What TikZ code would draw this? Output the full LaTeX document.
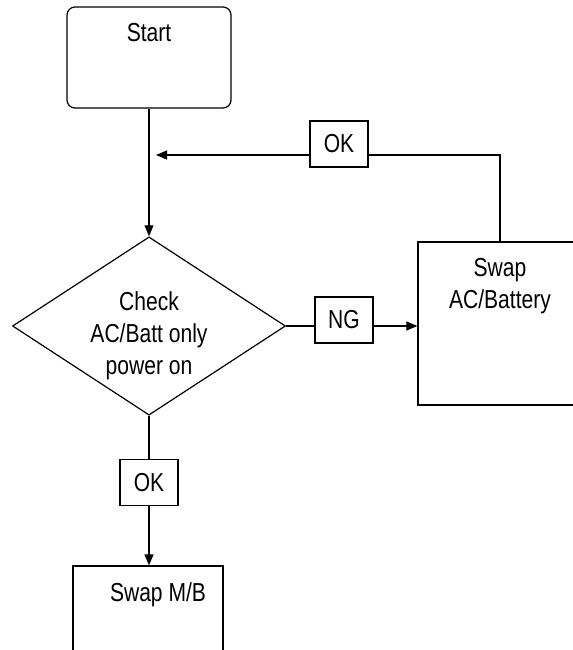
\documentclass[tikz,border=0pt]{standalone}
\usepackage{fontspec}
\setmainfont{Liberation Sans}[FakeStretch=0.81]
\usetikzlibrary{arrows.meta,positioning,shapes.geometric,calc}
\tikzset{
  fc/base/.style={draw, line width=0.6pt, font=\fontsize{13}{16}\selectfont},
  fc/start/.style={fc/base, rounded corners=4pt, minimum width=82pt, minimum height=50.5pt},
  fc/process/.style={fc/base, minimum width=82pt, minimum height=81.5pt},
  fc/decision/.style={fc/base, diamond, aspect=1.53, inner sep=-1pt, align=center, minimum width=136.5pt, minimum height=89pt},
  fc/tag/.style={fc/base, minimum width=29pt, minimum height=23pt, inner sep=0pt},
  fc/title/.style={anchor=north, inner sep=0pt, align=center, yshift=-8.5pt, font=\fontsize{13}{16}\selectfont},
  fc/line/.style={line width=0.6pt},
  fc/arrow/.style={fc/line, -{Triangle[length=5.5pt,width=4.5pt]}}
}

\begin{document}
\begin{tikzpicture}[x=0.5pt, y=-0.5pt]
  \clip (0,0) rectangle (573,650);

  \node[fc/start, label={[fc/title]north:Start}] (start) at (149,57.5) {};
  \node[fc/decision, text height=51.5pt] (check) at (149,326) {Check\\AC/Batt only\\power on};
  \node[fc/tag] (ng) at (344,320) {NG};
  \node[fc/process, label={[fc/title]north:Swap\\AC/Battery}] (swapac) at (500,323.5) {};
  \node[fc/tag] (okret) at (339,144) {OK};
  \node[fc/tag, below=21.5pt of check] (okmb) {OK};
  \node[fc/process, minimum width=75pt, label={[fc/title, xshift=5pt]north:Swap M/B}] (swapmb) at (148,647.5) {};
  \coordinate (back) at (156,155);

  \draw[fc/arrow] (start) -- (check);
  \draw[fc/line] (check.east) -- (check.east -| ng.west);
  \draw[fc/arrow] (check.east -| ng.east) -- (check.east -| swapac.west);
  \draw[fc/line] (swapac.north) |- (back -| okret.east);
  \draw[fc/arrow] (back -| okret.west) -- (back);
  \draw[fc/line] (check.south) -- (okmb.north);
  \draw[fc/arrow] (okmb.south) -- (okmb.south |- swapmb.north);
\end{tikzpicture}
\end{document}
